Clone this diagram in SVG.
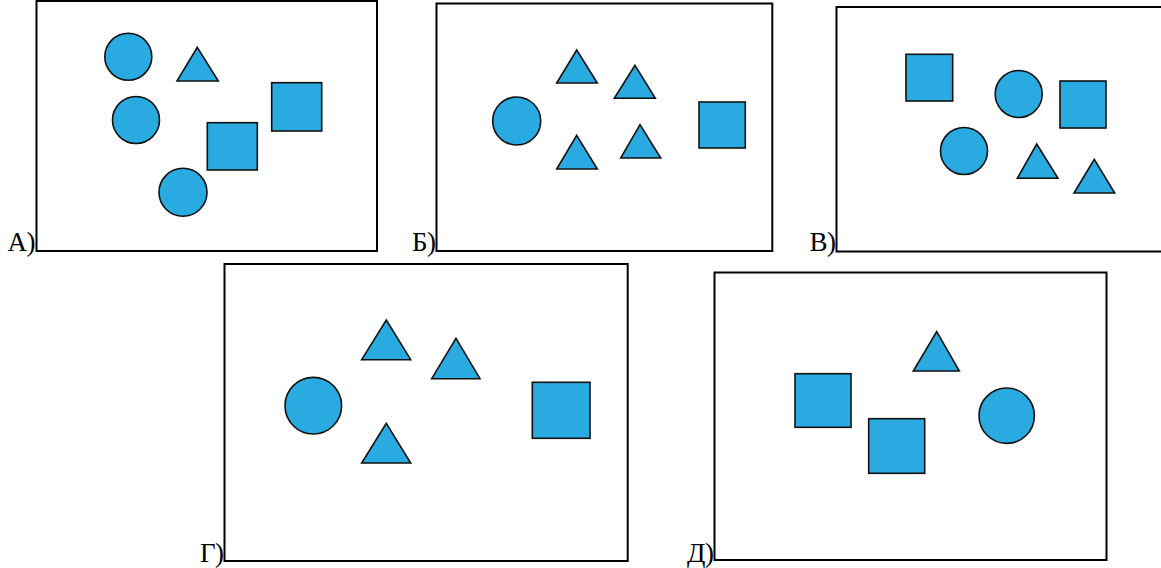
<svg xmlns="http://www.w3.org/2000/svg" width="1161" height="568" viewBox="0 0 1161 568">
<style>
.frame{fill:#fff;stroke:#000;stroke-width:2}
.s{fill:#29abe2;stroke:#111;stroke-width:1.6;stroke-linejoin:miter}
.lbl{font-family:"Liberation Serif","Times New Roman",serif;font-size:27px;fill:#000;text-anchor:end;letter-spacing:-0.5px}
</style>
<rect width="1161" height="568" fill="#fff"/>
<g id="panelA">
<rect class="frame" x="36.5" y="1" width="340.5" height="250"/>
<text class="lbl" x="35" y="251">А)</text>
<circle class="s" cx="128.3" cy="56.7" r="23.5"/>
<polygon class="s" points="197.3,47.3 218.3,81 177,81"/>
<circle class="s" cx="136" cy="120" r="23.5"/>
<rect class="s" x="207.3" y="122.7" width="50" height="47.3"/>
<rect class="s" x="271.7" y="82.7" width="50" height="48.3"/>
<circle class="s" cx="183" cy="192.3" r="24"/>
</g>
<g id="panelB">
<rect class="frame" x="436.5" y="3.5" width="335.8" height="247.5"/>
<text class="lbl" x="435.5" y="251">Б)</text>
<polygon class="s" points="576.7,50 597.3,83 556.7,83"/>
<polygon class="s" points="635,65.3 655.3,98.3 614.3,98.3"/>
<circle class="s" cx="516.7" cy="121" r="24"/>
<polygon class="s" points="576.7,135.3 597.3,169 556.7,169"/>
<polygon class="s" points="640,124.7 660.7,158 620.7,158"/>
<rect class="s" x="699" y="102" width="46.3" height="46"/>
</g>
<g id="panelV">
<rect class="frame" x="836.5" y="7" width="330" height="244.5"/>
<text class="lbl" x="835.5" y="251">В)</text>
<rect class="s" x="906" y="54.3" width="46.7" height="46.7"/>
<circle class="s" cx="1018.7" cy="94" r="23.5"/>
<rect class="s" x="1060" y="81" width="46" height="47"/>
<circle class="s" cx="964" cy="151" r="23.5"/>
<polygon class="s" points="1036.7,144 1058,178.3 1017.3,178.3"/>
<polygon class="s" points="1094.3,159.3 1114.7,193 1074,193"/>
</g>
<g id="panelG">
<rect class="frame" x="224.5" y="264" width="403.2" height="297"/>
<text class="lbl" x="223.5" y="561.5">Г)</text>
<polygon class="s" points="386.3,320 410.7,359.7 361.7,359.7"/>
<polygon class="s" points="456,338.3 480,378.7 431.7,378.7"/>
<circle class="s" cx="313.3" cy="405.7" r="28.3"/>
<polygon class="s" points="386.3,423.3 410.7,463 361.7,463"/>
<rect class="s" x="532.3" y="382.3" width="57.7" height="56"/>
</g>
<g id="panelD">
<rect class="frame" x="714.5" y="272.5" width="392" height="287.5"/>
<text class="lbl" x="713.5" y="561.5">Д)</text>
<polygon class="s" points="936.7,331.7 959.3,371 913.3,371"/>
<rect class="s" x="795" y="373.7" width="56" height="53.6"/>
<rect class="s" x="868.7" y="418.7" width="56" height="54.6"/>
<circle class="s" cx="1006.7" cy="415.7" r="27.7"/>
</g>
<g id="connectors"/>
</svg>
